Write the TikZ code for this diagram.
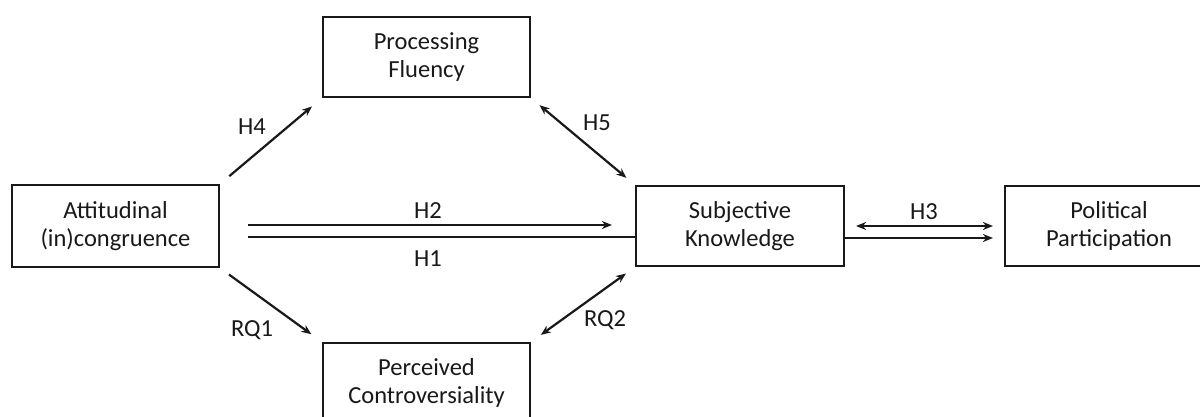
\documentclass[tikz,border=0pt]{standalone}
\usepackage{fontspec}
\setmainfont{Carlito}
\usetikzlibrary{arrows.meta}
\begin{document}
\begin{tikzpicture}[x=1pt,y=-1pt,
  box/.style={draw=black!90,line width=2.2pt,inner sep=0pt,align=center,
    minimum width=207pt,minimum height=80pt,font=\fontsize{24.5}{28}\selectfont,text=black!90},
  lbl/.style={font=\fontsize{24.5}{28}\selectfont,text=black!90,inner sep=0pt},
  conn/.style={line width=2.2pt,draw=black!90},
  arr/.style={conn,-{Stealth[length=10pt,width=8pt]}},
  darr/.style={conn,{Stealth[length=10pt,width=8pt]}-{Stealth[length=10pt,width=8pt]}}]
\useasboundingbox (0,0) rectangle (1200,417);
\fill[white] (0,0) rectangle (1200,417);
\node[box,minimum height=82pt] (att) at (115.5,226) {Attitudinal\\(in)congruence};
\node[box] (pf) at (426.5,57) {Processing\\Fluency};
\node[box] (pc) at (426.5,383) {Perceived\\Controversiality};
\node[box,minimum width=208pt] (sk) at (740,226) {Subjective\\Knowledge};
\node[box,minimum width=208pt] (pp) at (1109,226) {Political\\Participation};
% diagonal connectors
\draw[arr,shorten <=12pt,shorten >=13pt] (att.north east) -- (pf.south west);
\draw[darr,shorten <=11pt,shorten >=11pt] (pf.south east) -- (sk.north west);
\draw[arr,shorten <=11pt,shorten >=13pt] (att.south east) -- (pc.north west);
\draw[darr,shorten <=12pt,shorten >=11pt] (pc.north east) -- (sk.south west);
% horizontal connectors
\draw[arr] ([xshift=28pt,yshift=1pt]att.east) -- ([xshift=-23pt,yshift=1pt]sk.west);
\draw[conn] ([xshift=28pt,yshift=-11pt]att.east) -- ([yshift=-11pt]sk.west);
\draw[darr] ([xshift=11pt,yshift=0pt]sk.east) -- ([xshift=-11pt,yshift=0pt]pp.west);
\draw[arr] ([yshift=-12pt]sk.east) -- ([xshift=-11pt,yshift=-12pt]pp.west);
% labels
\node[lbl] (lh4) at (252,127) {H4};
\node[lbl] (lh5) at (597,123) {H5};
\node[lbl] (lrq1) at (252,330) {RQ1};
\node[lbl] (lrq2) at (605,320) {RQ2};
\node[lbl] (lh2) at (428,211) {H2};
\node[lbl] (lh1) at (428,259) {H1};
\node[lbl] (lh3) at (924,212) {H3};
\end{tikzpicture}
\end{document}
